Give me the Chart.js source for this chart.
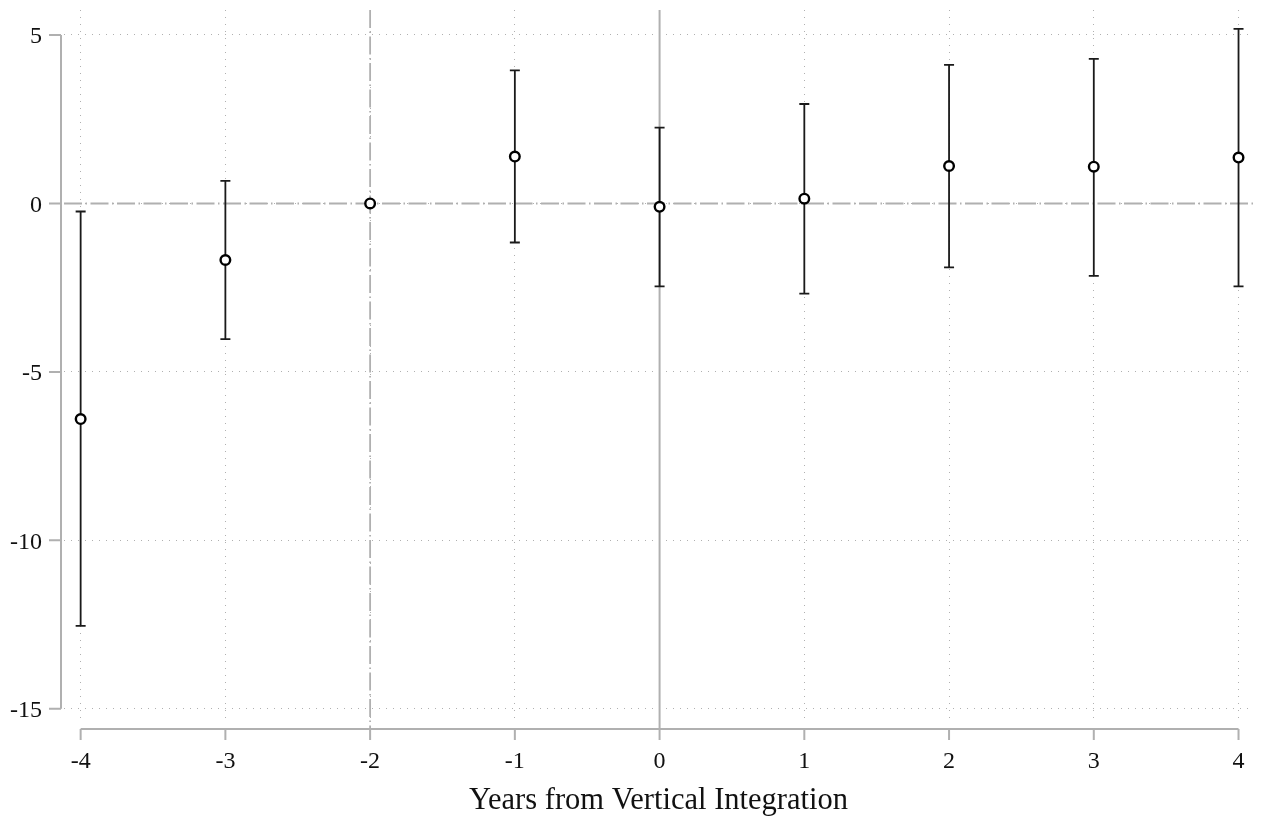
<!DOCTYPE html>
<html>
<head>
<meta charset="utf-8">
<script src="https://cdn.jsdelivr.net/npm/chart.js@4"></script>
<style>
  html, body { margin: 0; padding: 0; background: #fff; }
  #wrap { width: 1267px; height: 821px; }
</style>
</head>
<body>
<div id="wrap"><canvas id="myChart" width="1267" height="821"></canvas></div>
<script>
// event-study estimates
const years = [-4, -3, -2, -1, 0, 1, 2, 3, 4];
const coef = [-6.40, -1.68, 0, 1.39, -0.10, 0.14, 1.11, 1.09, 1.36];
const ciLow = [-12.54, -4.03, null, -1.16, -2.46, -2.68, -1.90, -2.15, -2.46];
const ciHigh = [-0.24, 0.67, null, 3.95, 2.25, 2.95, 4.11, 4.29, 5.18];

const xTicks = [-4, -3, -2, -1, 0, 1, 2, 3, 4];
const yTicks = [5, 0, -5, -10, -15];
const refYear = -2;   // omitted period
const eventYear = 0;

const serif = "'Liberation Serif', 'Times New Roman', serif";
const gray = '#b0b0b0';
const dashDot = [18, 3.5, 1.5, 3.5];

// Stata-ish axes, reference lines and CI caps
const decorations = {
    id: 'decorations',
    beforeDatasetsDraw(chart) {
        const ctx = chart.ctx;
        const area = chart.chartArea;
        const xs = chart.scales.x;
        const ys = chart.scales.y;
        const axisY = area.bottom + 6;
        const axisX = area.left - 3;

        ctx.save();

        // horizontal zero line, dash-dot
        ctx.strokeStyle = gray;
        ctx.lineWidth = 2;
        ctx.setLineDash(dashDot);
        ctx.beginPath();
        ctx.moveTo(area.left, ys.getPixelForValue(0));
        ctx.lineTo(area.right, ys.getPixelForValue(0));
        ctx.stroke();

        // vertical line at omitted year, dash-dot
        ctx.lineWidth = 1.8;
        ctx.beginPath();
        ctx.moveTo(xs.getPixelForValue(refYear), area.top);
        ctx.lineTo(xs.getPixelForValue(refYear), axisY);
        ctx.stroke();

        // solid line at event year
        ctx.setLineDash([]);
        ctx.lineWidth = 2;
        ctx.beginPath();
        ctx.moveTo(xs.getPixelForValue(eventYear), area.top);
        ctx.lineTo(xs.getPixelForValue(eventYear), axisY);
        ctx.stroke();

        // y axis line + ticks
        ctx.lineWidth = 2;
        ctx.beginPath();
        ctx.moveTo(axisX, ys.getPixelForValue(Math.max(...yTicks)));
        ctx.lineTo(axisX, ys.getPixelForValue(Math.min(...yTicks)));
        yTicks.forEach(v => {
            const py = ys.getPixelForValue(v);
            ctx.moveTo(axisX - 12, py);
            ctx.lineTo(axisX, py);
        });
        // x axis line + ticks
        ctx.moveTo(xs.getPixelForValue(Math.min(...xTicks)), axisY);
        ctx.lineTo(xs.getPixelForValue(Math.max(...xTicks)), axisY);
        xTicks.forEach(v => {
            const px = xs.getPixelForValue(v);
            ctx.moveTo(px, axisY);
            ctx.lineTo(px, axisY + 11);
        });
        ctx.stroke();

        // confidence intervals with caps
        ctx.strokeStyle = '#1a1a1a';
        ctx.lineWidth = 1.8;
        years.forEach((yr, i) => {
            if (ciLow[i] === null) return;
            const px = xs.getPixelForValue(yr);
            const lo = ys.getPixelForValue(ciLow[i]);
            const hi = ys.getPixelForValue(ciHigh[i]);
            ctx.beginPath();
            ctx.moveTo(px, lo);
            ctx.lineTo(px, hi);
            ctx.moveTo(px - 5, lo);
            ctx.lineTo(px + 5, lo);
            ctx.moveTo(px - 5, hi);
            ctx.lineTo(px + 5, hi);
            ctx.stroke();
        });

        ctx.restore();
    }
};

const ctx = document.getElementById('myChart').getContext('2d');

new Chart(ctx, {
    type: 'scatter',
    data: {
        datasets: [{
            label: 'Estimate',
            data: years.map((yr, i) => ({ x: yr, y: coef[i] })),
            pointStyle: 'circle',
            pointRadius: 4.8,
            pointBorderWidth: 2.4,
            pointBorderColor: '#000',
            pointBackgroundColor: '#fff'
        }]
    },
    options: {
        responsive: false,
        animation: false,
        layout: { padding: { top: 10, right: 14, left: 0, bottom: 0 } },
        plugins: {
            legend: { display: false },
            tooltip: { enabled: false }
        },
        scales: {
            x: {
                type: 'linear',
                min: -4.115,
                max: 4.1,
                afterFit: s => { s.height = 98; s.paddingLeft = 0; s.paddingRight = 0; },
                afterBuildTicks: s => { s.ticks = xTicks.map(v => ({ value: v })); },
                grid: { color: '#b0b0b0', lineWidth: 1, drawTicks: false },
                border: { display: false, dash: [1, 6] },
                ticks: {
                    padding: 24,
                    color: '#111',
                    font: { family: serif, size: 24 },
                    maxRotation: 0
                },
                title: {
                    display: true,
                    text: 'Years from Vertical Integration',
                    color: '#111',
                    font: { family: serif, size: 30.5 },
                    padding: { top: 0, bottom: 2 }
                }
            },
            y: {
                type: 'linear',
                min: -15.42,
                max: 5.74,
                afterFit: s => { s.width = 64; s.paddingTop = 0; s.paddingBottom = 0; },
                afterBuildTicks: s => { s.ticks = yTicks.map(v => ({ value: v })); },
                grid: { color: '#b0b0b0', lineWidth: 1, drawTicks: false },
                border: { display: false, dash: [1, 6] },
                ticks: {
                    padding: 22,
                    labelOffset: 2,
                    color: '#111',
                    font: { family: serif, size: 24 }
                }
            }
        }
    },
    plugins: [decorations]
});
</script>
</body>
</html>
